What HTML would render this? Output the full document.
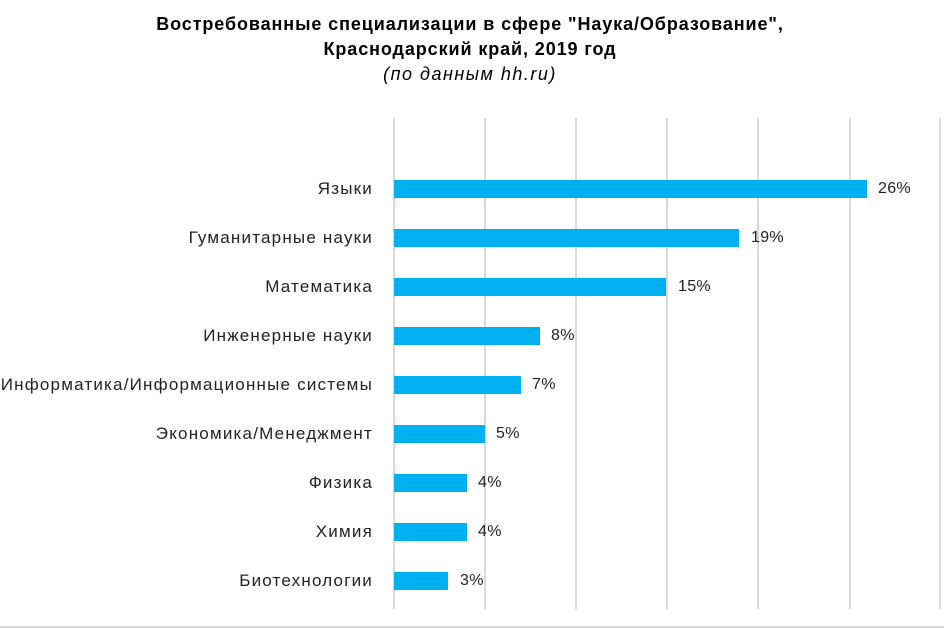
<!DOCTYPE html>
<html><head><meta charset="utf-8"><style>
body{margin:0;width:944px;height:628px;background:#fff;font-family:"Liberation Sans",sans-serif;overflow:hidden;position:relative}
.t{position:absolute;left:0;width:944px;text-align:center;color:#000}
.g{position:absolute;top:118px;height:491px;width:2px;background:#d9d9d9}
.l{position:absolute;right:571px;font-size:17px;letter-spacing:1.2px;color:#222;white-space:nowrap;line-height:18px}
.b{position:absolute;left:394px;height:18px;background:#00b0f0}
.v{position:absolute;font-size:16px;letter-spacing:0.3px;color:#222;line-height:18px}
</style></head><body>
<div class="t" style="top:12px;font-weight:bold;font-size:18px;letter-spacing:0.9px;line-height:25px;left:-2px">Востребованные специализации в сфере "Наука/Образование",<br>Краснодарский край, 2019 год</div>
<div class="t" style="top:64px;font-style:italic;font-size:18px;letter-spacing:1.5px;left:-2px">(по данным hh.ru)</div>
<div class="g" style="left:393px"></div><div class="g" style="left:484px"></div><div class="g" style="left:575px"></div><div class="g" style="left:666px"></div><div class="g" style="left:757px"></div><div class="g" style="left:849px"></div><div class="g" style="left:939px"></div>
<div style="position:absolute;left:0;top:626px;width:944px;height:2px;background:#d9d9d9"></div>

<div class="l" style="top:180px">Языки</div><div class="b" style="top:180px;width:473px"></div><div class="v" style="top:180px;left:878px">26%</div>
<div class="l" style="top:229px">Гуманитарные науки</div><div class="b" style="top:229px;width:345px"></div><div class="v" style="top:229px;left:751px">19%</div>
<div class="l" style="top:278px">Математика</div><div class="b" style="top:278px;width:272px"></div><div class="v" style="top:278px;left:678px">15%</div>
<div class="l" style="top:327px">Инженерные науки</div><div class="b" style="top:327px;width:146px"></div><div class="v" style="top:327px;left:551px">8%</div>
<div class="l" style="top:376px">Информатика/Информационные системы</div><div class="b" style="top:376px;width:127px"></div><div class="v" style="top:376px;left:532px">7%</div>
<div class="l" style="top:425px">Экономика/Менеджмент</div><div class="b" style="top:425px;width:91px"></div><div class="v" style="top:425px;left:496px">5%</div>
<div class="l" style="top:474px">Физика</div><div class="b" style="top:474px;width:73px"></div><div class="v" style="top:474px;left:478px">4%</div>
<div class="l" style="top:523px">Химия</div><div class="b" style="top:523px;width:73px"></div><div class="v" style="top:523px;left:478px">4%</div>
<div class="l" style="top:572px">Биотехнологии</div><div class="b" style="top:572px;width:54px"></div><div class="v" style="top:572px;left:460px">3%</div>
</body></html>
